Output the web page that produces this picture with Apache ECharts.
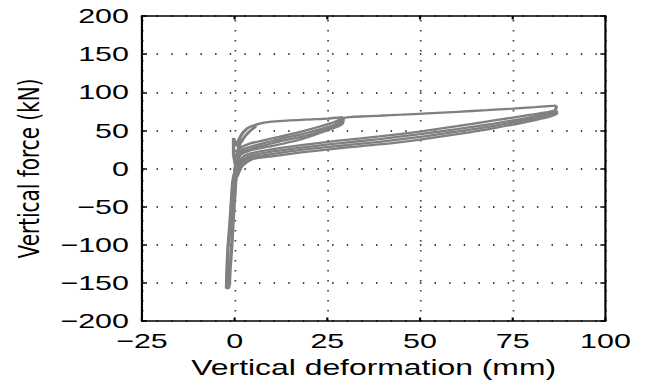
<!DOCTYPE html>
<html>
<head>
<meta charset="utf-8">
<script src="https://cdn.jsdelivr.net/npm/echarts@6/dist/echarts.min.js"></script>
<style>
html,body{margin:0;padding:0;background:#fff;overflow:hidden;}
#wrap{width:646px;height:383px;overflow:hidden;position:relative;}
#chart{width:446px;height:383px;transform:scaleX(1.4484);transform-origin:0 0;}
</style>
</head>
<body>
<div id="wrap"><div id="chart"></div></div>
<script>
// ---- axis ticks ----
const xTicks = [-25, 0, 25, 50, 75, 100];
const yTicks = [-200, -150, -100, -50, 0, 50, 100, 150, 200];
const xTitle = 'Vertical deformation (mm)';
const yTitle = 'Vertical force (kN)';

// ---- data: [deformation mm, force kN] ----
const compressionBranch = [[2.0,10],[0.8,-3],[0.3,-17],[0.1,-33],[-0.2,-52],[-0.5,-78],[-0.8,-104],[-1.2,-130],[-1.6,-157],[-2.2,-157],[-2.1,-135],[-1.8,-104],[-1.4,-80],[-1.0,-52],[-0.5,-17],[0.2,-2],[1.2,8]];
const initialSpikeLeaf = [[0.2,5],[-0.3,20],[-0.3,40],[0.0,35],[0.4,30],[1.1,37],[1.8,44],[2.6,49],[3.5,53],[4.5,55.5],[5.6,56.5],[5.4,54],[4.7,51.5],[4.0,48.5],[3.3,45],[2.6,41],[2.0,36.5],[1.4,32],[1.0,26],[0.6,18],[0.3,8]];
const loadTo30 = [[5.2,56.5],[6.5,58.5],[8,60.2],[10,61.5],[13,62.5],[17,63.5],[21,64.5],[25,65.5],[29.3,67.2]];
const cycle30A = [[0.0,-3],[0.8,18],[1.5,27],[4,32.5],[7,36],[12,41.5],[17.7,48],[23,55],[27,61],[29.5,66.5]];
const cycle30B = [[0.1,-4],[0.8,15],[2,24.5],[5,29.5],[9,34.5],[13,39.5],[17.7,44.5],[23,51.5],[27,57.5],[29.4,64]];
const cycle30C = [[0.2,-5],[0.8,12],[2,21.5],[5,26.5],[9,31.5],[13,36.5],[17.7,41.2],[23,48.5],[27,55],[29.2,61]];
const cycle30D = [[0.3,-6],[0.8,9],[1.5,18],[4,23.5],[9,28.5],[13,32.5],[17.7,38],[22,45],[26.7,53],[29,58.5],[29.3,67.2]];
const loadTo87 = [[29.5,66.5],[31,67.3],[34,68.2],[39,69.2],[45,70.6],[52,72.3],[60,74.3],[68,76.5],[75,78.5],[81,80.5],[86.8,82.5]];
const cycle87A = [[0.3,-8],[1.2,8],[2.5,16],[5,20.5],[10,25],[18,30.5],[28,36.5],[39,42],[50,48.5],[60,55.5],[70,63],[80,70.5],[86.3,76],[86.8,82.5]];
const cycle87B = [[0.4,-9],[1.4,6],[2.8,13],[5,17.5],[10,22],[18,27.5],[28,33],[39,38.5],[50,45],[60,51.5],[70,59],[80,67.5],[86.6,74.5]];
const cycle87C = [[0.5,-10],[1.6,4],[3,10.5],[5,15],[10,19],[18,24.5],[28,29.5],[39,35],[50,41.5],[60,48.5],[70,56],[80,65],[86.8,73]];
const cycle87D = [[0.6,-11],[1.8,2],[3.2,8],[5,12.5],[10,16],[18,21],[28,26.5],[39,31.5],[50,38],[60,45],[70,53],[80,62.5],[86.8,71.5],[86.8,76]];

const curves = [compressionBranch, initialSpikeLeaf, loadTo30, cycle30A, cycle30B, cycle30C, cycle30D,
  loadTo87, cycle87A, cycle87B, cycle87C, cycle87D];

const minusFmt = v => (v < 0 ? '\u2212' + Math.abs(v) : String(v));
const chart = echarts.init(document.getElementById('chart'), null, {renderer: 'svg'});
const axisCommon = {
  type: 'value',
  axisLine: {show: true, onZero: false, lineStyle: {color: '#000', width: 1.5}},
  axisTick: {show: true, inside: true, length: 3.5, lineStyle: {color: '#000', width: 1.5}},
};
const option = {
  animation: false,
  backgroundColor: '#fff',
  grid: {left: 98, right: 28, top: 16, bottom: 59.5, containLabel: false},
  xAxis: [
    Object.assign({}, axisCommon, {
      position: 'bottom',
      min: xTicks[0], max: xTicks[xTicks.length - 1], interval: xTicks[1] - xTicks[0],
      name: xTitle, nameLocation: 'middle', nameGap: 35,
      nameTextStyle: {fontFamily: 'Liberation Sans', fontSize: 22, color: '#000'},
      axisLabel: {fontFamily: 'Liberation Sans', fontSize: 21, color: '#000', margin: 9, formatter: minusFmt},
      splitLine: {show: true, lineStyle: {color: '#444', width: 1.2, type: [1.6, 8.4], dashOffset: 6}}
    }),
    Object.assign({}, axisCommon, {
      position: 'top',
      min: xTicks[0], max: xTicks[xTicks.length - 1], interval: xTicks[1] - xTicks[0],
      axisLabel: {show: false}, splitLine: {show: false}
    })
  ],
  yAxis: [
    Object.assign({}, axisCommon, {
      position: 'left',
      min: yTicks[0], max: yTicks[yTicks.length - 1], interval: yTicks[1] - yTicks[0],
      name: yTitle, nameLocation: 'middle', nameGap: 68,
      nameTextStyle: {fontFamily: 'DejaVu Sans', fontSize: 20, color: '#000'},
      axisLabel: {fontFamily: 'Liberation Sans', fontSize: 21, color: '#000', margin: 9,
        padding: [5, 0, 0, 0], formatter: minusFmt},
      splitLine: {show: true, lineStyle: {color: '#444', width: 1.8, type: [1, 9.1]}}
    }),
    Object.assign({}, axisCommon, {
      position: 'right',
      min: yTicks[0], max: yTicks[yTicks.length - 1], interval: yTicks[1] - yTicks[0],
      axisLabel: {show: false}, splitLine: {show: false}
    })
  ],
  series: curves.map(d => ({
    type: 'line', xAxisIndex: 0, yAxisIndex: 0, data: d,
    showSymbol: false, symbol: 'none', smooth: 0.2,
    lineStyle: {color: '#808080', width: 2.3}
  }))
};
chart.setOption(option);
</script>
</body>
</html>
